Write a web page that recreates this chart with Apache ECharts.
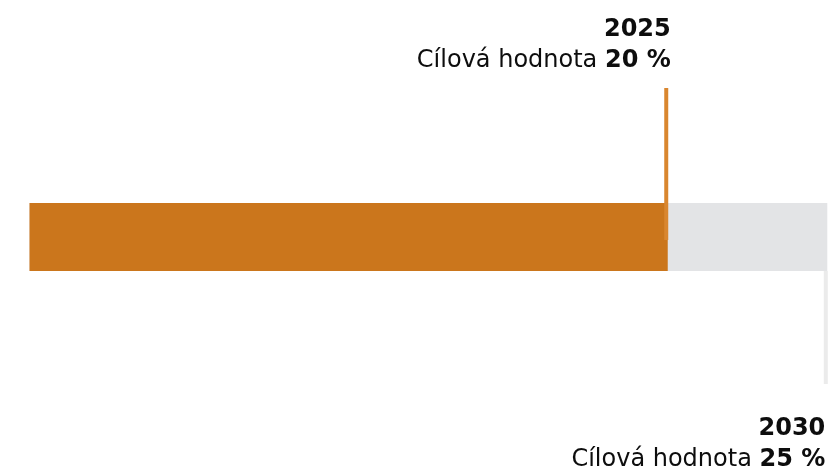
<!DOCTYPE html>
<html><head><meta charset="utf-8">
<script src="https://cdn.jsdelivr.net/npm/echarts@6/dist/echarts.min.js"></script>
<style>html,body{margin:0;padding:0;background:#fff}#c{width:830px;height:476px}</style>
</head><body><div id="c"></div>
<script>
const categories = ['podíl'];
const currentValue = [20];
const fullScale = [25];
const targetYears = ['2025', '2030'];
const targetValues = [20, 25];
const targetLabel = 'Cílová hodnota';

const chart = echarts.init(document.getElementById('c'), null, {renderer: 'canvas'});
const FONT = '"DejaVu Sans", sans-serif';
const FS = 24;

chart.setOption({
  animation: false,
  backgroundColor: '#ffffff',
  grid: {left: 29.5, right: 2.7, top: 203, bottom: 476 - 271},
  xAxis: {type: 'value', min: 0, max: 25, show: false},
  yAxis: {type: 'category', data: categories, show: false},
  series: [
    {type: 'bar', data: fullScale, barWidth: 68, barGap: '-100%', itemStyle: {color: '#e3e4e6'}, silent: true},
    {type: 'bar', data: currentValue, barWidth: 68, itemStyle: {color: '#cb761c'}, silent: true},
    {
      type: 'custom', silent: true, z: 10,
      data: targetValues.map((v, i) => [v, 0, i]),
      renderItem: function (params, api) {
        const i = api.value(2);
        const p = api.coord([api.value(0), 0]);
        const x = p[0], cy = p[1];
        const up = i === 0;
        const lineTop = up ? cy - 149 : cy + 34;
        const lineBot = up ? cy + 3 : cy + 147;
        const tx = up ? x + 3 : x - 2;
        const yMid = up ? 30 - cy : 429 - cy;
        return {
          type: 'group',
          children: [
            {type: 'rect', shape: {x: x - 3.5, y: lineTop, width: 4, height: lineBot - lineTop},
              style: {fill: up ? '#d9862f' : '#ebebeb'}},
            {type: 'text', x: tx, y: cy + yMid,
              style: {text: targetYears[i], font: 'bold ' + FS + 'px ' + FONT, fill: '#0d0d0d', align: 'right', verticalAlign: 'middle'}},
            {type: 'text', x: tx, y: cy + yMid + 31,
              style: {
                text: '{n|' + targetLabel + ' }{b|' + targetValues[i] + ' %}',
                align: 'right', verticalAlign: 'middle',
                rich: {
                  n: {font: FS + 'px ' + FONT, fill: '#0d0d0d'},
                  b: {font: 'bold ' + FS + 'px ' + FONT, fill: '#0d0d0d'}
                }
              }}
          ]
        };
      }
    }
  ]
});
</script></body></html>
